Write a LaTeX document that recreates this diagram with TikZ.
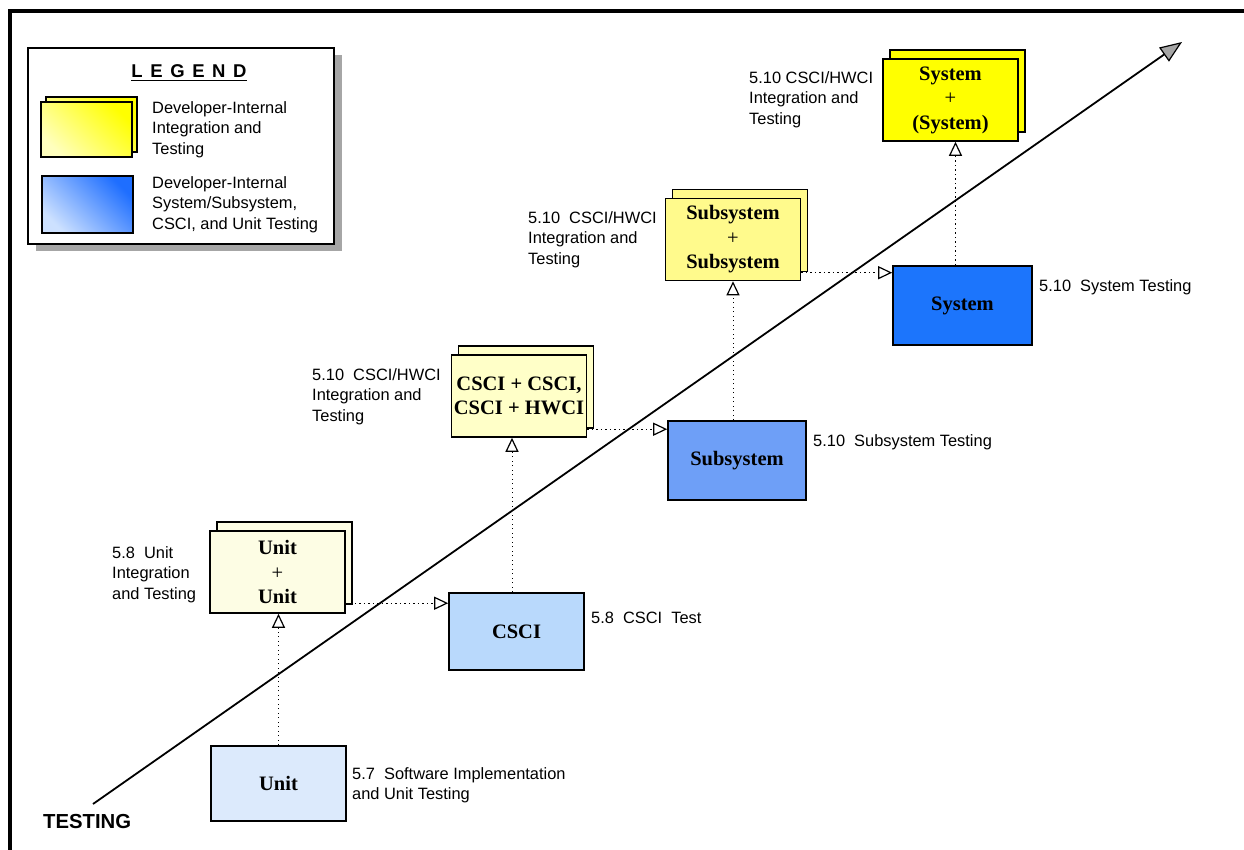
\documentclass[tikz,border=0pt]{standalone}
\usepackage{fontspec}
\setmainfont{Liberation Serif}
\setsansfont{Liberation Sans}
\usetikzlibrary{arrows.meta,shadows,calc}

\definecolor{unitc}{RGB}{220,234,252}
\definecolor{cscic}{RGB}{185,217,252}
\definecolor{subc}{RGB}{110,159,247}
\definecolor{sysc}{RGB}{28,117,252}
\definecolor{uuc}{RGB}{253,253,228}
\definecolor{ccc}{RGB}{255,255,200}
\definecolor{ssc}{RGB}{255,250,140}
\definecolor{yyc}{RGB}{255,255,0}
\definecolor{ylight}{RGB}{255,255,190}
\definecolor{bdark}{RGB}{30,110,255}
\definecolor{blight}{RGB}{205,225,255}

\newcommand\lsp{\hspace{7.6pt}}

\begin{document}
\begin{tikzpicture}[x=1pt,y=-1pt,
  lbl/.style={font=\fontsize{16.4}{20.5}\selectfont\sffamily, align=left, anchor=west, inner sep=0pt, yshift=-1.5pt},
  boxtext/.style={font=\fontsize{20.5}{24.5}\selectfont\bfseries, align=center},
  testbox/.style={draw=black, line width=1.6pt, inner sep=0pt, boxtext},
  singlebox/.style={testbox, minimum width=135pt, minimum height=77pt},
  stackbox/.style={testbox, fill=#1, minimum width=135pt, minimum height=82pt,
    copy shadow={shadow xshift=7pt, shadow yshift=9pt, fill=#1, draw=black, line width=1.6pt}},
  flow/.style={line width=1pt, dash pattern=on 1.2pt off 3.3pt,
    -{Triangle[open, length=14pt, width=13pt, line width=1.2pt]}},
  icon/.style={draw=black, line width=1.4pt, inner sep=0pt},
]
\useasboundingbox (0,0) rectangle (1244,850);
\fill[white] (0,0) rectangle (1244,850);

% outer frame (top and left edges)
\draw[line width=4pt] (10,900) -- (10,11) -- (1300,11);

% legend
\node[draw=black, line width=1.5pt, fill=white, minimum width=306pt, minimum height=196pt,
  drop shadow={shadow xshift=8pt, shadow yshift=-7pt, fill=black!35, opacity=1}] (legend) at (181,146) {};
\node[font=\fontsize{18.5}{20}\selectfont\sffamily\bfseries, inner sep=0pt] (legtitle) at (189,71)
  {L\lsp E\lsp G\lsp E\lsp N\lsp D};
\draw[line width=1.4pt] ([yshift=-3pt]legtitle.base west) -- ([yshift=-3pt]legtitle.base east);
\node[icon, minimum width=91pt, minimum height=55pt, top color=yyc, bottom color=ylight, shading angle=-45]
  (yback) at (91.5,124.5) {};
\node[icon, minimum width=91pt, minimum height=55pt, top color=yyc, bottom color=ylight, shading angle=-45]
  (yfront) at (86.5,129.5) {};
\node[icon, minimum width=91pt, minimum height=57pt, top color=bdark, bottom color=blight, shading angle=-45]
  (bicon) at (87.5,204.5) {};
\node[lbl] (lt1) at (152,128) {Developer-Internal\\Integration and\\Testing};
\node[lbl] (lt2) at (152,203) {Developer-Internal\\System/Subsystem,\\CSCI, and Unit Testing};

% rising testing axis
\coordinate (a0) at (93,804);
\coordinate (a1) at (1182,42);
\draw[line width=1.8pt, -{Triangle[length=22pt, width=17pt, fill=black!35, line width=1.2pt]}] (a0) -- (a1);
\node[font=\fontsize{20.3}{22}\selectfont\sffamily\bfseries, anchor=west, inner sep=0pt] (axis) at (43,822) {TESTING};

% test levels
\node[singlebox, fill=unitc, minimum height=75pt] (unit) at (278.5,783.5) {Unit};
\node[stackbox=uuc] (uu) at (277.5,572) {Unit\\\textmd{+}\\Unit};
\node[singlebox, fill=cscic] (csci) at (516.5,631.5) {CSCI};
\node[stackbox=ccc] (cc) at (519,396) {CSCI + CSCI,\\CSCI + HWCI};
\node[singlebox, fill=subc, minimum width=138pt, minimum height=79pt] (sub) at (737,460.5) {Subsystem};
\node[stackbox=ssc] (ss) at (733,239.5) {Subsystem\\\textmd{+}\\Subsystem};
\node[singlebox, fill=sysc, minimum width=139pt, minimum height=79pt] (sys) at (962.5,305.5) {System};
\node[stackbox=yyc] (yy) at (950.5,100) {System\\\textmd{+}\\(System)};

% labels
\node[lbl] (l1) at (352,784) {5.7~~Software Implementation\\and Unit Testing};
\node[lbl] (l2) at (112,573) {5.8~~Unit\\Integration\\and Testing};
\node[lbl] (l3) at (591,616) {5.8~~CSCI~~Test};
\node[lbl] (l4) at (312,395) {5.10~~CSCI/HWCI\\Integration and\\Testing};
\node[lbl] (l5) at (813,441) {5.10~~Subsystem Testing};
\node[lbl] (l6) at (528,238) {5.10~~CSCI/HWCI\\Integration and\\Testing};
\node[lbl] (l7) at (1039,286) {5.10~~System Testing};
\node[lbl] (l8) at (749,98) {5.10 CSCI/HWCI\\Integration and\\Testing};

% flows: vertical (test level -> integration) and horizontal (integration -> next level)
\draw[flow] (unit.north) -- (unit.north |- uu.south);
\draw[flow] ([xshift=-4.5pt]csci.north) -- ([xshift=-4.5pt]csci.north |- cc.south);
\draw[flow] (ss.south |- sub.north) -- (ss.south);
\draw[flow] ([xshift=-7pt]sys.north) -- ([xshift=-7pt]sys.north |- yy.south);

\coordinate (e1) at ([yshift=-11pt]csci.north west);
\coordinate (e2) at ([yshift=-9pt]sub.north west);
\coordinate (e3) at ([yshift=-7.5pt]sys.north west);
\draw[flow] (uu.east |- e1) -- (e1);
\draw[flow] (cc.east |- e2) -- (e2);
\draw[flow] (ss.east |- e3) -- (e3);
\end{tikzpicture}
\end{document}
